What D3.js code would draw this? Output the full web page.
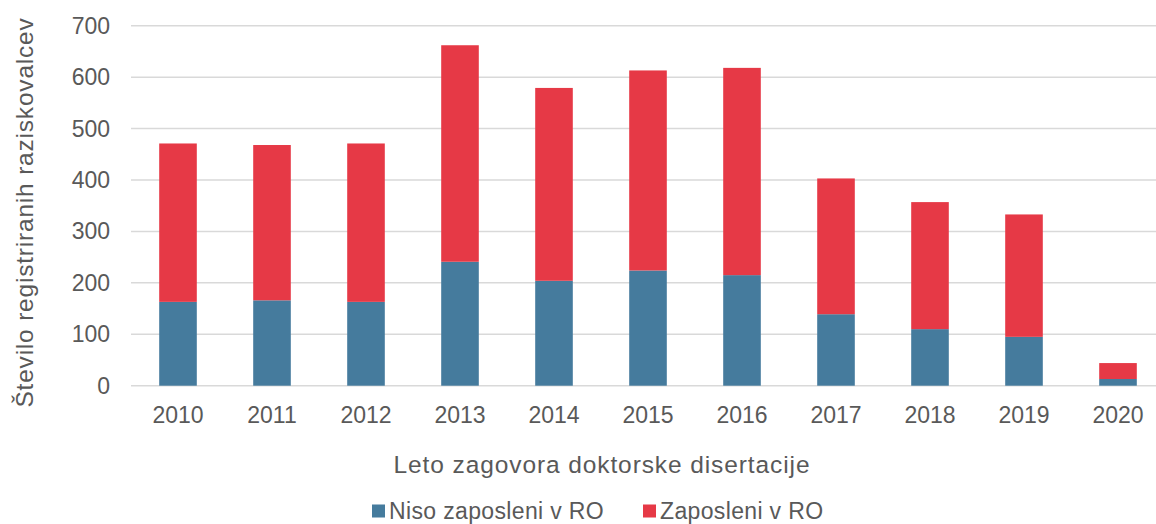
<!DOCTYPE html>
<html>
<head>
<meta charset="utf-8">
<script src="https://cdn.jsdelivr.net/npm/d3@7"></script>
<style>
  body { margin: 0; background: #fff; }
  svg text { font-family: "Liberation Sans", Arial, sans-serif; fill: #595959; }
</style>
</head>
<body>
<div id="chart"></div>
<script>
const years = ["2010", "2011", "2012", "2013", "2014", "2015", "2016", "2017", "2018", "2019", "2020"];
const nisoZaposleni = [163, 166, 163, 241, 204, 224, 215, 139, 110, 95, 13];
const zaposleni = [308, 302, 308, 421, 375, 389, 403, 264, 247, 238, 31];
const yTicks = [0, 100, 200, 300, 400, 500, 600, 700];
const seriesNames = ["Niso zaposleni v RO", "Zaposleni v RO"];
const colors = ["#457b9d", "#e63946"];

const width = 1156;
const height = 524;

const svg = d3.select("#chart")
    .append("svg")
    .attr("width", width)
    .attr("height", height);

const x = d3.scaleBand()
    .domain(years)
    .range([131, 1165])
    .paddingInner(0.6)
    .paddingOuter(0.3);

const y = d3.scaleLinear()
    .domain([0, 700])
    .range([385.7, 25.7]);

// gridlines
svg.append("g")
    .selectAll("line")
    .data(yTicks)
    .join("line")
    .attr("x1", 131)
    .attr("x2", 1165)
    .attr("y1", d => y(d))
    .attr("y2", d => y(d))
    .attr("stroke", "#d9d9d9")
    .attr("stroke-width", 1.5);

// y labels
svg.append("g")
    .selectAll("text")
    .data(yTicks)
    .join("text")
    .attr("x", 110)
    .attr("y", d => y(d))
    .attr("dy", "0.35em")
    .attr("text-anchor", "end")
    .style("font-size", "23px")
    .text(d => d);

// stacked bars
const rows = years.map((yr, i) => ({ year: yr, a: nisoZaposleni[i], b: zaposleni[i] }));
const stack = d3.stack().keys(["a", "b"])(rows);

svg.append("g")
    .selectAll("g")
    .data(stack)
    .join("g")
    .attr("fill", (d, i) => colors[i])
    .selectAll("rect")
    .data(d => d)
    .join("rect")
    .attr("x", d => x(d.data.year))
    .attr("width", x.bandwidth())
    .attr("y", d => y(d[1]))
    .attr("height", d => y(d[0]) - y(d[1]));

// x labels
svg.append("g")
    .selectAll("text")
    .data(years)
    .join("text")
    .attr("x", d => x(d) + x.bandwidth() / 2)
    .attr("y", 422.5)
    .attr("text-anchor", "middle")
    .style("font-size", "23px")
    .text(d => d);

// axis titles
svg.append("text")
    .attr("x", 602)
    .attr("y", 472.5)
    .attr("text-anchor", "middle")
    .style("font-size", "24.5px")
    .style("letter-spacing", "0.9px")
    .text("Leto zagovora doktorske disertacije");

svg.append("text")
    .attr("transform", "translate(33,212.5) rotate(-90)")
    .attr("text-anchor", "middle")
    .style("font-size", "24.5px")
    .style("letter-spacing", "0.8px")
    .text("Število registriranih raziskovalcev");

// legend (kept just inside the bottom edge)
const legendX = [372, 643];
const legend = svg.append("g")
    .selectAll("g")
    .data(seriesNames)
    .join("g")
    .attr("transform", (d, i) => `translate(${legendX[i]},0)`);

legend.append("rect")
    .attr("y", 504.5)
    .attr("width", 13)
    .attr("height", 13)
    .attr("fill", (d, i) => colors[i]);

legend.append("text")
    .attr("x", 17)
    .attr("y", 518.5)
    .style("font-size", "23px")
    .style("letter-spacing", "0.35px")
    .text(d => d);
</script>
</body>
</html>
